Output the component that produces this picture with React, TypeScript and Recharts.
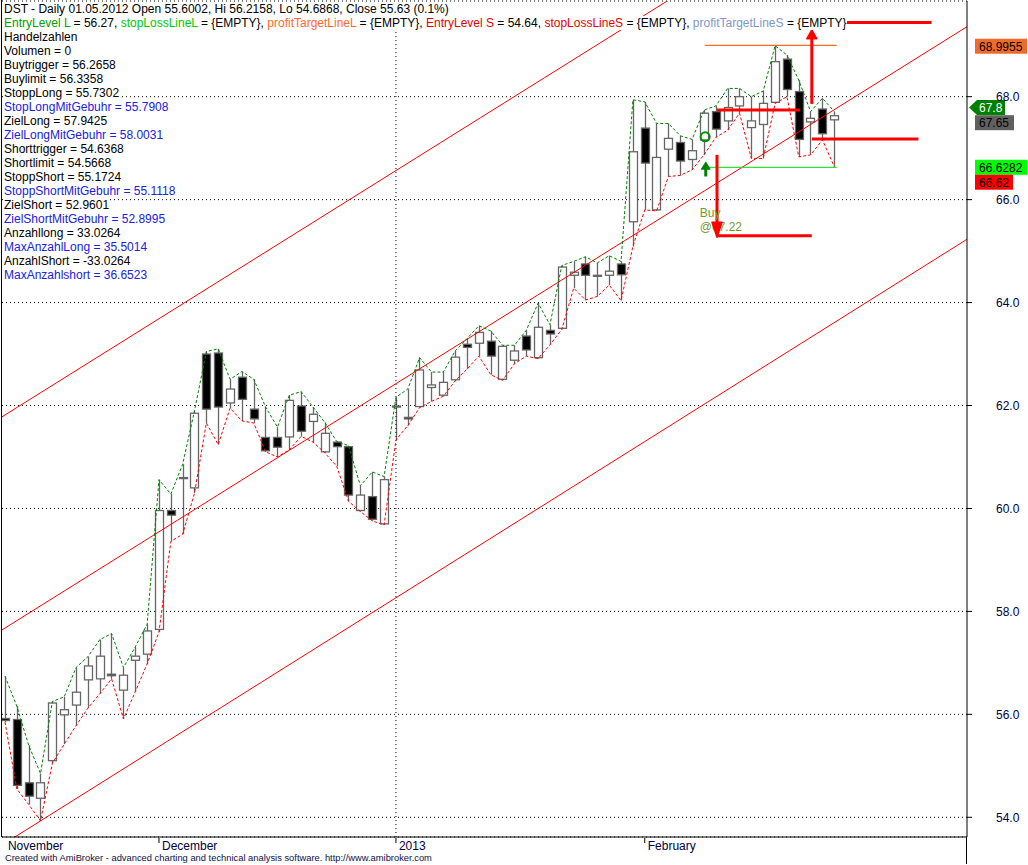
import React from "react";
import {
  ComposedChart,
  Bar,
  Line,
  XAxis,
  YAxis,
  CartesianGrid,
  ReferenceLine,
  ReferenceDot,
} from "recharts";

// daily bars
const opens = [
  55.92, 55.9, 54.67, 54.37, 55.1, 55.99, 56.18, 56.67, 56.69, 56.78, 56.47, 57.05, 57.17, 57.65, 59.96, 60.6,
  60.4, 63.0, 63.02, 62.05, 62.55, 61.93, 61.38, 61.38, 61.39, 61.99, 61.69, 61.1, 61.29, 61.2, 59.96, 60.23,
  59.7, 61.99, 61.77, 61.98, 62.35, 62.2, 62.5, 63.19, 63.21, 63.25, 62.51, 62.88, 63.35, 62.93, 63.46, 63.5,
  64.53, 64.75, 64.53, 64.53, 64.75, 65.57, 67.39, 65.8, 66.98, 67.11, 66.78, 67.16, 67.71, 67.53, 67.82, 67.4,
  67.46, 67.89, 68.73, 68.1, 67.51, 67.76, 67.55,
];
const highs = [
  56.74, 56.16, 55.4, 54.85, 56.25, 56.34, 56.91, 57.12, 57.45, 57.57, 56.91, 57.31, 57.75, 60.56, 60.28, 60.86,
  61.9, 63.05, 63.1, 62.51, 62.66, 62.51, 61.97, 61.58, 62.2, 62.27, 61.97, 61.67, 61.3, 61.22, 60.44, 60.71,
  60.62, 62.16, 62.32, 62.93, 62.65, 62.65, 63.06, 63.3, 63.55, 63.45, 63.17, 63.17, 63.46, 63.99, 63.57, 64.72,
  64.8, 64.89, 64.77, 64.91, 64.8, 67.94, 67.9, 67.48, 67.48, 67.24, 67.17, 67.74, 67.82, 68.16, 68.16, 68.0,
  68.11, 68.99, 68.81, 68.32, 67.71, 67.97, 67.71,
];
const lows = [
  55.85, 54.55, 54.25, 53.93, 55.05, 55.42, 55.78, 56.12, 56.4, 56.69, 55.91, 56.44, 56.98, 57.6, 59.36, 59.5,
  60.3, 61.66, 61.24, 61.95, 61.7, 61.66, 61.1, 61.0, 61.14, 61.4, 61.29, 61.08, 60.82, 60.14, 59.94, 59.76,
  59.68, 61.33, 61.61, 61.96, 62.08, 62.18, 62.48, 62.71, 62.96, 62.6, 62.49, 62.81, 62.96, 62.91, 63.18, 63.48,
  64.28, 64.05, 64.12, 64.34, 64.04, 65.09, 65.8, 65.78, 66.45, 66.47, 66.58, 66.87, 67.21, 67.35, 67.68, 66.8,
  66.8, 67.87, 68.0, 66.83, 66.87, 67.16, 66.64,
];
const closes = [
  55.88, 54.62, 54.41, 54.67, 56.22, 56.09, 56.43, 56.94, 57.13, 56.75, 56.76, 57.13, 57.62, 59.96, 59.87, 60.58,
  61.85, 61.93, 61.97, 62.32, 62.12, 61.74, 61.12, 61.19, 62.1, 61.5, 61.83, 61.46, 61.2, 60.26, 60.26, 59.79,
  60.56, 61.97, 61.74, 62.69, 62.4, 62.45, 62.94, 63.13, 63.42, 62.96, 63.15, 63.06, 63.08, 63.52, 63.39, 64.69,
  64.59, 64.53, 64.51, 64.61, 64.54, 66.93, 66.71, 66.82, 67.19, 66.75, 66.95, 67.68, 67.37, 67.79, 68.0, 67.53,
  67.87, 68.68, 68.14, 67.17, 67.58, 67.28, 67.63,
];

const monthTicks = [0, 13, 33, 54];
const monthLabels = ["November", "December", "2013", "February"];
const priceTicks = [54, 56, 58, 60, 62, 64, 66, 68];
const yearStart = 33;

// regression channel, value at the left and right edge of the plot
const channelX = [-0.25, 81.2];
const channelLower = [53.46, 65.23];
const channelMid = [57.64, 69.36];
const channelUpper = [61.78, 73.5];

// trade levels drawn by the system
const signalFrom = [
  [59.07, 68.9955], [59.07, 66.6282], [60.1, 67.74], [68.1, 67.18], [68.1, 69.44],
  [60.1, 65.3], [68.1, 67.86], [60.1, 66.87], [59.15, 66.45],
];
const signalTo = [
  [70.2, 68.9955], [70.2, 66.6282], [67.1, 67.74], [77.1, 67.18], [78.2, 69.44],
  [68.1, 65.3], [68.1, 69.15], [60.1, 65.5], [59.15, 66.62],
];
const signalColors = ["#ff6a20", "#33e033", "#ff0000", "#ff0000", "#ff0000", "#ff0000", "#ff0000", "#ff0000", "#008000"];
const signalWidths = [1.3, 1.3, 3, 3, 3, 3, 3, 3, 3];

const entryPrice = 67.22;
const entryBar = 59.1;

const sideValues = [68.9955, 67.8, 67.65, 66.6282, 66.62];
const sideTexts = ["68.9955", "67.8", "67.65", "66.6282", "66.62"];
const sideFills = ["#f06a2a", "#008000", "#606060", "#00ff00", "#ff0000"];
const sideInk = ["#000", "#fff", "#000", "#000", "#000"];
const sideNudge = [0.8, 0.5, 8, 0, 14.5];
const sideWidths = [52, 30, 39, 52, 38];

const headerLine = "DST - Daily 01.05.2012 Open 55.6002, Hi 56.2158, Lo 54.6868, Close 55.63 (0.1%)";
const legendNames = ["EntryLevel L", "stopLossLineL", "profitTargetLineL", "EntryLevel S", "stopLossLineS", "profitTargetLineS"];
const legendValues = [" = 56.27, ", " = {EMPTY}, ", " = {EMPTY}, ", " = 54.64, ", " = {EMPTY}, ", " = {EMPTY}"];
const legendColors = ["#00a000", "#00c800", "#ff6a2a", "#e80000", "#e80000", "#7f98c8"];

const statNames = [
  "Volumen", "Buytrigger", "Buylimit", "StoppLong", "StopLongMitGebuhr", "ZielLong", "ZielLongMitGebuhr",
  "Shorttrigger", "Shortlimit", "StoppShort", "StoppShortMitGebuhr", "ZielShort", "ZielShortMitGebuhr",
  "Anzahllong", "MaxAnzahlLong", "AnzahlShort", "MaxAnzahlshort",
];
const statValues = [
  "0", "56.2658", "56.3358", "55.7302", "55.7908", "57.9425", "58.0031", "54.6368", "54.5668", "55.1724",
  "55.1118", "52.9601", "52.8995", "33.0264", "35.5014", "-33.0264", "36.6523",
];
const statBlue = [4, 6, 10, 12, 14, 16];

const candles = opens.map((o, i) => ({
  x: i,
  open: o,
  high: highs[i],
  low: lows[i],
  close: closes[i],
  range: [lows[i], highs[i]],
}));
const channel = channelX.map((x, k) => ({ x, lower: channelLower[k], mid: channelMid[k], upper: channelUpper[k] }));

const FONT = "'Liberation Sans', Arial, sans-serif";
const NAVY = "#000040";

function Candle(props: any) {
  const { x, y, width, height, payload } = props;
  if (payload == null || height == null) return null;
  const { open, close, high, low } = payload;
  const top0 = Math.min(y, y + height);
  const h = Math.abs(height);
  const ppu = h / (high - low || 1);
  const py = (v: number) => top0 + (high - v) * ppu;
  const cx = Math.round(x + width / 2) + 0.5;
  const bodyTop = py(Math.max(open, close));
  const bodyBot = py(Math.min(open, close));
  return (
    <g>
      <line x1={cx} x2={cx} y1={top0} y2={top0 + h} stroke="#666" strokeWidth={1.3} />
      <rect
        x={cx - 4}
        y={bodyTop}
        width={8}
        height={Math.max(bodyBot - bodyTop, 1)}
        fill={close >= open ? "#fff" : "#000"}
        stroke="#666"
        strokeWidth={1.3}
      />
    </g>
  );
}

function MonthTick(props: any) {
  const { x, y, payload } = props;
  const k = monthTicks.indexOf(payload.value);
  return (
    <g>
      {payload.value > 0 && <line x1={x} x2={x} y1={y - 5} y2={y} stroke="#000" />}
      <text x={x + 3} y={y + 7} fill={NAVY} fontSize={12} fontFamily={FONT} textAnchor="start">
        {monthLabels[k]}
      </text>
    </g>
  );
}

function SideLabel(props: any) {
  const { cx, cy, k } = props;
  const c = cy + sideNudge[k];
  const left = cx + 8;
  const w = sideWidths[k];
  return (
    <g>
      {k === 1 ? (
        <polygon
          points={`${cx + 2},${c} ${left + 2},${c - 7.5} ${left + w},${c - 7.5} ${left + w},${c + 7.5} ${left + 2},${c + 7.5}`}
          fill={sideFills[k]}
        />
      ) : (
        <rect x={left} y={c - 7.5} width={w} height={15} fill={sideFills[k]} />
      )}
      <text x={left + 4} y={c + 4.5} fontSize={12} fontFamily={FONT} fill={sideInk[k]}>
        {sideTexts[k]}
      </text>
    </g>
  );
}

function ArrowHead(props: any) {
  const { cx, cy, up, color, half, len } = props;
  const s = up ? 1 : -1;
  return (
    <polygon
      points={`${cx},${cy} ${cx - half},${cy + s * len} ${cx + half},${cy + s * len}`}
      fill={color}
      stroke={color}
      strokeLinejoin="round"
      strokeWidth={1.5}
    />
  );
}

function BuyText(props: any) {
  const { cx, cy } = props;
  return (
    <g fontFamily={FONT} fontSize={12} fill="#6f9b2c">
      <text x={cx} y={cy}>Buy</text>
      <text x={cx} y={cy + 14.5}>@{entryPrice.toFixed(2)}</text>
    </g>
  );
}

export default function App() {
  return (
    <div style={{ position: "absolute", left: 0, top: 0, width: 1028, height: 865, background: "#fff" }}>
      <ComposedChart
        width={1028}
        height={865}
        data={candles}
        margin={{ top: 1, right: 0, bottom: 0, left: 2 }}
      >
        <CartesianGrid horizontal vertical={false} stroke="#000" strokeDasharray="1 3" />
        <XAxis
          dataKey="x"
          type="number"
          domain={[-0.25, 81.2]}
          allowDataOverflow
          ticks={monthTicks}
          interval={0}
          height={28}
          tickSize={6}
          tickMargin={0}
          tickLine={false}
          axisLine={{ stroke: "#000" }}
          tick={<MonthTick />}
        />
        <YAxis
          orientation="right"
          type="number"
          domain={[53.617, 69.859]}
          allowDataOverflow
          ticks={priceTicks}
          width={61}
          tickSize={5}
          tickMargin={24}
          tickFormatter={(v: number) => v.toFixed(1)}
          tick={{ fill: NAVY, fontSize: 12, fontFamily: FONT }}
          tickLine={{ stroke: "#000" }}
          axisLine={{ stroke: "#000" }}
        />
        <ReferenceLine x={yearStart} stroke="#000" strokeDasharray="1 3" />

        <Line data={channel} dataKey="lower" stroke="#ff0000" strokeWidth={1} dot={false} isAnimationActive={false} />
        <Line data={channel} dataKey="mid" stroke="#ff0000" strokeWidth={1} dot={false} isAnimationActive={false} />
        <Line data={channel} dataKey="upper" stroke="#ff0000" strokeWidth={1} dot={false} isAnimationActive={false} />

        <Line dataKey="high" stroke="#008000" strokeDasharray="3 2" strokeWidth={1} dot={false} isAnimationActive={false} />
        <Line dataKey="low" stroke="#ff0000" strokeDasharray="3 2" strokeWidth={1} dot={false} isAnimationActive={false} />

        <Bar dataKey="range" barSize={8} shape={(p: any) => <Candle {...p} />} isAnimationActive={false} />

        <ReferenceDot x={58.65} y={65.67} r={0} ifOverflow="visible" shape={(p: any) => <BuyText {...p} />} />

        {signalFrom.map((f, k) => (
          <ReferenceLine
            key={`sig${k}`}
            segment={[{ x: f[0], y: f[1] }, { x: signalTo[k][0], y: signalTo[k][1] }]}
            stroke={signalColors[k]}
            strokeWidth={signalWidths[k]}
            ifOverflow="visible"
          />
        ))}
        <ReferenceDot x={68.1} y={69.3} r={0} ifOverflow="visible"
          shape={(p: any) => <ArrowHead {...p} up color="#ff0000" half={5} len={9} />} />
        <ReferenceDot x={60.1} y={65.27} r={0} ifOverflow="visible"
          shape={(p: any) => <ArrowHead {...p} up={false} color="#ff0000" half={5} len={15} />} />
        <ReferenceDot x={59.15} y={66.72} r={0} ifOverflow="visible"
          shape={(p: any) => <ArrowHead {...p} up color="#008000" half={4} len={6.5} />} />
        <ReferenceDot x={entryBar} y={entryPrice} r={4.5} fill="none" stroke="#009000" strokeWidth={2} ifOverflow="visible" />

        {sideValues.map((v, k) => (
          <ReferenceDot key={`side${k}`} x={81.2} y={v} r={0} ifOverflow="visible" shape={(p: any) => <SideLabel {...p} k={k} />} />
        ))}
      </ComposedChart>

      <div style={{ position: "absolute", left: 1, top: 0, width: 1, height: 837, background: "#000" }} />
      <div style={{ position: "absolute", left: 966, top: 837, width: 1, height: 27, background: "#000" }} />

      <div
        style={{
          position: "absolute",
          left: 4,
          top: 1.5,
          fontFamily: FONT,
          fontSize: 12,
          lineHeight: "14px",
          whiteSpace: "pre",
          color: "#000",
        }}
      >
        <div><span style={{ background: "#fff" }}>{headerLine}</span></div>
        <div>
          <span style={{ background: "#fff" }}>
            {legendNames.map((n, k) => (
              <React.Fragment key={n}>
                <span style={{ color: legendColors[k] }}>{n}</span>
                <span>{legendValues[k]}</span>
              </React.Fragment>
            ))}
          </span>
        </div>
        <div><span style={{ background: "#fff" }}>Handelzahlen</span></div>
        {statNames.map((n, k) => (
          <div key={n}>
            <span style={{ background: "#fff", color: statBlue.includes(k) ? "#2020e0" : "#000" }}>
              {n} = {statValues[k]}
            </span>
          </div>
        ))}
      </div>

      <div
        style={{
          position: "absolute",
          left: 5,
          top: 853,
          fontFamily: FONT,
          fontSize: 9.35,
          lineHeight: "10px",
          whiteSpace: "pre",
          color: "#101048",
        }}
      >
        Created with AmiBroker - advanced charting and technical analysis software. http://www.amibroker.com
      </div>
    </div>
  );
}
